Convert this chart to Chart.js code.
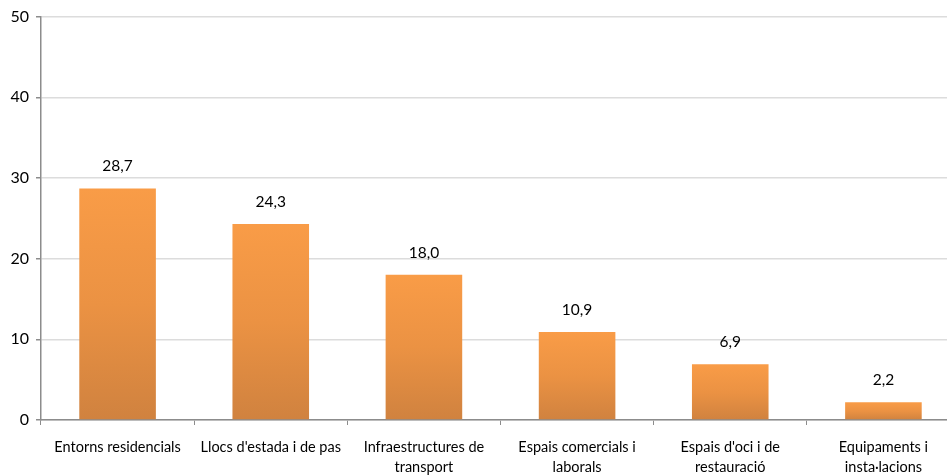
<!DOCTYPE html>
<html>
<head>
<meta charset="utf-8">
<script src="https://cdn.jsdelivr.net/npm/chart.js@4"></script>
<style>
html,body{margin:0;padding:0;background:#fff;overflow:hidden;}
#wrap{width:960px;height:475px;}
</style>
</head>
<body>
<div id="wrap"><canvas id="c" width="960" height="475"></canvas></div>
<script>
const categories = [
  ["Entorns residencials"],
  ["Llocs d'estada i de pas"],
  ["Infraestructures de", "transport"],
  ["Espais comercials i", "laborals"],
  ["Espais d'oci i de", "restauració"],
  ["Equipaments i", "insta·lacions"]
];
const values = [28.7, 24.3, 18.0, 10.9, 6.9, 2.2];
const yTicks = [0, 10, 20, 30, 40, 50];

const FONT = "Lato, 'Open Sans', sans-serif";

function barFill(context) {
  const chart = context.chart;
  const ys = chart.scales && chart.scales.y;
  if (!ys || !chart.chartArea) return '#F39644';
  const v = context.raw;
  const top = ys.getPixelForValue(v);
  const base = ys.getPixelForValue(0);
  if (!isFinite(top) || !isFinite(base) || top === base) return '#F39644';
  const g = chart.ctx.createLinearGradient(0, top, 0, base);
  g.addColorStop(0, '#F99C47');
  g.addColorStop(0.5, '#EB9243');
  g.addColorStop(1, '#D0823F');
  return g;
}

const valueLabels = {
  id: 'valueLabels',
  afterDatasetsDraw(chart) {
    const ctx = chart.ctx;
    const meta = chart.getDatasetMeta(0);
    ctx.save();
    ctx.font = "15.5px " + FONT;
    ctx.fillStyle = '#000';
    ctx.textAlign = 'center';
    ctx.textBaseline = 'middle';
    meta.data.forEach((bar, i) => {
      ctx.fillText(values[i].toFixed(1).replace('.', ','), bar.x, bar.y - 22);
    });
    ctx.restore();
  }
};

new Chart(document.getElementById('c'), {
  type: 'bar',
  data: {
    labels: categories,
    datasets: [{
      data: values,
      backgroundColor: barFill,
      borderWidth: 0,
      barPercentage: 0.5,
      categoryPercentage: 1.0
    }]
  },
  options: {
    responsive: false,
    animation: false,
    devicePixelRatio: 1,
    layout: { padding: { top: 16, left: 0, right: 0, bottom: 0 } },
    plugins: { legend: { display: false }, tooltip: { enabled: false } },
    scales: {
      x: {
        grid: {
          offset: true,
          drawOnChartArea: false,
          drawTicks: true,
          tickLength: 5,
          tickColor: '#8C8C8C'
        },
        border: { color: '#8C8C8C', width: 1.5 },
        ticks: {
          color: '#000',
          font: { family: FONT, size: 14.5, lineHeight: 1.4 },
          padding: 12,
          maxRotation: 0,
          autoSkip: false
        },
        afterFit(scale) { scale.height = 55; }
      },
      y: {
        min: 0,
        max: 50,
        afterBuildTicks(scale) { scale.ticks = yTicks.map(v => ({ value: v })); },
        grid: {
          color: '#DCDCDC',
          lineWidth: 1.5,
          drawTicks: true,
          tickLength: 5,
          tickColor: '#8C8C8C'
        },
        border: { color: '#8C8C8C', width: 1.5 },
        ticks: {
          color: '#000',
          font: { family: FONT, size: 16 },
          padding: 7
        },
        afterFit(scale) { scale.width = 41; }
      }
    }
  },
  plugins: [valueLabels]
});
</script>
</body>
</html>
